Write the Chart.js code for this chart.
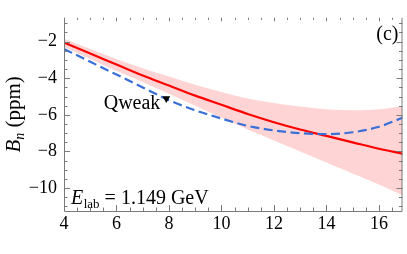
<!DOCTYPE html>
<html lang="en">
<head>
    <meta charset="UTF-8">
    <title>B_n vs angle</title>
    <script src="https://cdn.jsdelivr.net/npm/chart.js@4.4.0/dist/chart.umd.min.js"></script>
    <style>
        html, body { margin: 0; padding: 0; background: #fff; }
        .chart-box { position: relative; width: 407px; height: 254px; }
    </style>
</head>
<body>
    <div class="chart-box"><canvas id="bnChart"></canvas></div>

    <script>
        // angle (deg)
        const angles = [4, 5, 6, 7, 8, 9, 10, 11, 12, 13, 14, 15, 16, 17];
        // central prediction (red) and its error band
        const bnCentral = [-2.05, -2.65, -3.25, -3.85, -4.4, -4.95, -5.45, -5.95, -6.4, -6.8, -7.15, -7.5, -7.85, -8.15];
        const bnUpper = [-1.85, -2.4, -2.95, -3.45, -3.9, -4.35, -4.75, -5.1, -5.35, -5.55, -5.7, -5.75, -5.7, -5.5];
        const bnLower = [-2.3, -2.95, -3.6, -4.2, -4.85, -5.5, -6.15, -6.8, -7.4, -8.0, -8.6, -9.2, -9.8, -10.45];
        // second model (blue dashed)
        const bnDashed = [-2.4, -3.1, -3.8, -4.5, -5.2, -5.75, -6.2, -6.6, -6.85, -7.0, -7.05, -6.95, -6.65, -6.1];
        // Qweak point
        const qweakAngle = [7.9];
        const qweakBn = [-5.1];

        const xTicks = [4, 6, 8, 10, 12, 14, 16];
        const yTicks = [-10, -8, -6, -4, -2];

        const serif = "'Liberation Serif', 'DejaVu Serif', serif";
        const frameColor = '#7a7a7a';

        const pts = (xs, ys) => xs.map((x, i) => ({ x: x, y: ys[i] }));

        // frame, inward ticks and rich text labels
        const framePlugin = {
            id: 'frame',
            afterDatasetsDraw(chart) {
                const { ctx, chartArea: a, scales: { x, y } } = chart;
                ctx.save();
                ctx.strokeStyle = frameColor;
                ctx.lineWidth = 1;
                ctx.beginPath();
                ctx.moveTo(a.left + 0.5, a.top);
                ctx.lineTo(a.left + 0.5, a.bottom + 0.5);
                ctx.lineTo(a.right - 0.5, a.bottom + 0.5);
                ctx.lineTo(a.right - 0.5, a.top);
                ctx.stroke();

                ctx.beginPath();
                for (let v = 4; v <= 17.001; v += 0.5) {
                    const px = Math.round(x.getPixelForValue(v)) + 0.5;
                    if (px > a.right) continue;
                    const len = Math.abs(v % 2) < 1e-6 ? 6 : 3.5;
                    ctx.moveTo(px, a.bottom);
                    ctx.lineTo(px, a.bottom - len);
                    ctx.moveTo(px, a.top);
                    ctx.lineTo(px, a.top + len * 0.6);
                }
                for (let v = -11; v <= -0.7; v += 0.5) {
                    const py = Math.round(y.getPixelForValue(v)) + 0.5;
                    const len = Math.abs(v % 2) < 1e-6 ? 6 : 3.5;
                    ctx.moveTo(a.left, py);
                    ctx.lineTo(a.left + len, py);
                    ctx.moveTo(a.right, py);
                    ctx.lineTo(a.right - len, py);
                }
                ctx.stroke();

                ctx.fillStyle = '#000';
                ctx.textBaseline = 'alphabetic';

                // Qweak label next to the marker
                const qx = x.getPixelForValue(qweakAngle[0]);
                const qy = y.getPixelForValue(qweakBn[0]);
                ctx.font = '20px ' + serif;
                ctx.textAlign = 'right';
                ctx.fillText('Qweak', qx - 6, qy + 11);

                // (c)
                ctx.fillText('(c)', a.right - 4, a.top + 22);

                // E_lab = 1.149 GeV
                ctx.textAlign = 'left';
                let ex = a.left + 7, ey = a.bottom - 7;
                ctx.font = 'italic 20px ' + serif;
                ctx.fillText('E', ex, ey);
                ex += ctx.measureText('E').width + 0.5;
                ctx.font = '13px ' + serif;
                ctx.fillText('lab', ex, ey + 4);
                ex += ctx.measureText('lab').width;
                ctx.font = '20px ' + serif;
                ctx.fillText(' = 1.149 GeV', ex, ey);

                // y title: B_n (ppm)
                ctx.translate(13, (a.top + a.bottom) / 2);
                ctx.rotate(-Math.PI / 2);
                ctx.font = 'italic 21px ' + serif;
                const wB = ctx.measureText('B').width;
                ctx.font = 'italic 14px ' + serif;
                const wN = ctx.measureText('n').width;
                ctx.font = '21px ' + serif;
                const wP = ctx.measureText(' (ppm)').width;
                let tx = -(wB + wN + wP) / 2;
                const tb = 7;
                ctx.font = 'italic 21px ' + serif;
                ctx.fillText('B', tx, tb);
                tx += wB;
                ctx.font = 'italic 14px ' + serif;
                ctx.fillText('n', tx, tb + 4);
                tx += wN;
                ctx.font = '21px ' + serif;
                ctx.fillText(' (ppm)', tx, tb);
                ctx.restore();
            }
        };

        new Chart(document.getElementById('bnChart'), {
            type: 'line',
            data: {
                datasets: [
                    {
                        label: 'Qweak',
                        data: pts(qweakAngle, qweakBn),
                        showLine: false,
                        pointStyle: 'triangle',
                        rotation: 180,
                        pointRadius: 4.5,
                        backgroundColor: '#000',
                        borderColor: '#000',
                        borderWidth: 0,
                        order: 0
                    },
                    {
                        label: 'model 2',
                        data: pts(angles, bnDashed),
                        borderColor: '#3a6fd8',
                        borderWidth: 2.2,
                        borderDash: [9, 4.5],
                        pointRadius: 0,
                        cubicInterpolationMode: 'monotone',
                        fill: false,
                        order: 1
                    },
                    {
                        label: 'central',
                        data: pts(angles, bnCentral),
                        borderColor: '#ff0000',
                        borderWidth: 2.2,
                        pointRadius: 0,
                        cubicInterpolationMode: 'monotone',
                        fill: false,
                        order: 2
                    },
                    {
                        label: 'band lower',
                        data: pts(angles, bnLower),
                        borderWidth: 0,
                        borderColor: 'rgba(0,0,0,0)',
                        pointRadius: 0,
                        cubicInterpolationMode: 'monotone',
                        fill: false,
                        order: 4
                    },
                    {
                        label: 'band upper',
                        data: pts(angles, bnUpper),
                        borderWidth: 0,
                        borderColor: 'rgba(0,0,0,0)',
                        backgroundColor: 'rgba(255, 0, 0, 0.17)',
                        pointRadius: 0,
                        cubicInterpolationMode: 'monotone',
                        fill: '-1',
                        order: 3
                    }
                ]
            },
            options: {
                responsive: true,
                maintainAspectRatio: false,
                animation: false,
                layout: { padding: { left: 0, right: 1, top: 0, bottom: 0 } },
                plugins: {
                    legend: { display: false },
                    tooltip: { enabled: false }
                },
                scales: {
                    x: {
                        type: 'linear',
                        min: 4,
                        max: 16.9,
                        afterBuildTicks: s => { s.ticks = xTicks.map(v => ({ value: v })); },
                        afterFit: s => { s.height = 43; },
                        grid: { display: false, drawTicks: false },
                        border: { display: false },
                        ticks: {
                            color: '#000',
                            padding: 2,
                            maxRotation: 0,
                            font: { family: serif, size: 18 }
                        }
                    },
                    y: {
                        type: 'linear',
                        min: -11.25,
                        max: -0.7,
                        afterBuildTicks: s => { s.ticks = yTicks.map(v => ({ value: v })); },
                        afterFit: s => { s.width = 64; },
                        grid: { display: false, drawTicks: false },
                        border: { display: false },
                        ticks: {
                            color: '#000',
                            padding: 7,
                            font: { family: serif, size: 18 },
                            callback: v => (v < 0 ? '\u2212' + Math.abs(v) : String(v))
                        }
                    }
                }
            },
            plugins: [framePlugin]
        });
    </script>
</body>
</html>
